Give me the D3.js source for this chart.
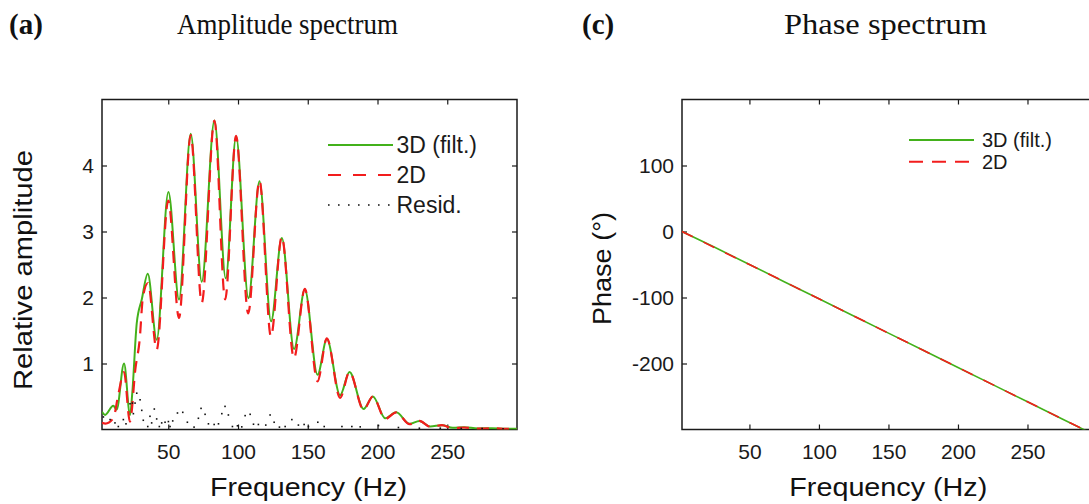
<!DOCTYPE html>
<html><head><meta charset="utf-8">
<script src="https://cdn.jsdelivr.net/npm/d3@7"></script>
<style>body{margin:0;background:#fff} svg{display:block}</style>
</head><body>
<svg id="c" width="1089" height="504"></svg>
<script>
// ---------- data ----------
const xTicks = [50, 100, 150, 200, 250];
const ampTicks = [1, 2, 3, 4];
const phaseTicks = [-200, -100, 0, 100];

const freq3D = [2.5, 4.7, 10.6, 13.0, 18.3, 22.6, 24.2, 27.4, 31.0, 35.3, 41.7, 50.1, 57.7, 66.1, 74.0, 83.1, 91.2, 98.6, 107.5, 115.4, 123.7, 131.4, 140.2, 147.9, 157.0, 163.7, 173.2, 179.9, 190.0, 196.7, 205.5, 213.4, 223.0, 230.1, 237.8, 246.2, 254, 262, 272, 282, 292, 300];
const amp3D  = [0.27, 0.22, 0.36, 0.30, 1.00, 0.22, 0.55, 1.61, 1.97, 2.36, 1.36, 3.60, 1.97, 4.48, 2.24, 4.68, 2.29, 4.44, 1.99, 3.76, 1.64, 2.90, 1.22, 2.12, 0.83, 1.37, 0.52, 0.87, 0.31, 0.50, 0.17, 0.26, 0.086, 0.13, 0.045, 0.066, 0.025, 0.035, 0.015, 0.02, 0.01, 0.01];

const freq2D = [2.5, 5.0, 10.6, 14.2, 18.3, 22.5, 26.5, 29.5, 31.8, 35.5, 41.7, 50.0, 57.7, 66.1, 74.0, 83.1, 90.8, 98.6, 107.3, 115.4, 123.6, 131.4, 140.1, 147.9, 157.0, 163.7, 173.2, 179.9, 190.0, 196.7, 205.5, 213.4, 223.0, 230.1, 237.8, 246.2, 254, 262, 272, 282, 292, 300];
const amp2D  = [0.10, 0.09, 0.17, 0.53, 0.87, 0.12, 0.93, 1.36, 2.00, 2.22, 1.21, 3.47, 1.69, 4.46, 1.92, 4.68, 1.97, 4.45, 1.76, 3.77, 1.41, 2.92, 1.08, 2.13, 0.73, 1.38, 0.48, 0.87, 0.30, 0.50, 0.16, 0.26, 0.08, 0.13, 0.04, 0.065, 0.02, 0.03, 0.012, 0.018, 0.01, 0.008];

const freqResid = [3.5, 8.3, 11.8, 14.2, 17.8, 19.7, 22.6, 24.3, 25.0, 26.2, 27.4, 29.8, 31.0, 32.1, 35.3, 36.9, 38.1, 40.0, 41.7, 43.6, 45.3, 47.7, 50.1, 51.3, 53.2, 56.6, 60.4, 63.7, 68.5, 71.6, 73.5, 76.4, 78.8, 82.9, 86.0, 88.4, 90.7, 93.1, 96.0, 99.6, 102.7, 105.1, 108.7, 111.1, 114.6, 119.9, 123.0, 125.9, 129.7, 133.8, 138.6, 143.3, 147.4, 150.5, 157.2, 161.8, 174.5, 181.6, 187.6, 200.7, 215, 230, 245, 260, 275, 290];
const ampResid  = [0.19, 0.15, 0.10, 0.045, 0.15, 0.086, 0.39, 0.40, 0.24, 0.40, 0.55, 0.45, 0.29, 0.14, 0.045, 0.20, 0.10, 0.31, 0.16, 0.045, 0.10, 0.11, 0.12, 0.045, 0.13, 0.25, 0.26, 0.11, 0.036, 0.17, 0.32, 0.23, 0.086, 0.076, 0.086, 0.24, 0.35, 0.22, 0.045, 0.056, 0.04, 0.21, 0.23, 0.08, 0.076, 0.067, 0.22, 0.11, 0.036, 0.045, 0.15, 0.067, 0.076, 0.045, 0.11, 0.045, 0.045, 0.045, 0.04, 0.06, 0.03, 0.02, 0.02, 0.015, 0.015, 0.01];

const freqPhase = [1.5, 25, 50, 75, 100, 125, 150, 175, 200, 225, 250, 275, 300];
const phase3D   = [0, -24, -50, -76, -102, -128, -154, -180, -206, -232, -258, -284, -310];
const phase2D   = [0, -24.5, -50, -76, -102, -128, -154, -180, -206, -232, -258, -284, -310];

// ---------- styles ----------
const GREEN = "#43b11b", RED = "#f21d1d", AX = "#1a1a1a";
const SANS = "'Liberation Sans', Arial, sans-serif";
const SERIF = "'Liberation Serif', 'Times New Roman', serif";
const svg = d3.select("#c");
const fmt = d => String(d);

function panel(id, xr, xd, yd, yTicks) {
  const x = d3.scaleLinear().domain(xd).range(xr);
  const y = d3.scaleLinear().domain(yd).range([429.5, 99.5]);
  const g = svg.append("g");
  g.append("clipPath").attr("id", id).append("rect")
    .attr("x", xr[0]).attr("y", 99.5).attr("width", xr[1] - xr[0]).attr("height", 330);
  const style = a => a.call(s => s.select(".domain").remove())
    .call(s => s.selectAll("line").attr("stroke", AX).attr("stroke-width", 1.2))
    .call(s => s.selectAll("text").attr("fill", "#1a1a1a").attr("font-family", SANS).attr("font-size", 21));
  g.append("g").attr("transform", "translate(0,429.5)")
    .call(d3.axisBottom(x).tickValues(xTicks).tickFormat(fmt).tickSizeInner(-5).tickSizeOuter(0).tickPadding(15)).call(style);
  g.append("g").attr("transform", "translate(0,99.5)")
    .call(d3.axisTop(x).tickValues(xTicks).tickSizeInner(-5).tickSizeOuter(0).tickFormat("")).call(style);
  g.append("g").attr("transform", `translate(${xr[0]},0)`)
    .call(d3.axisLeft(y).tickValues(yTicks).tickFormat(fmt).tickSizeInner(-5).tickSizeOuter(0).tickPadding(8)).call(style);
  g.append("g").attr("transform", `translate(${xr[1]},0)`)
    .call(d3.axisRight(y).tickValues(yTicks).tickSizeInner(-5).tickSizeOuter(0).tickFormat("")).call(style);
  g.append("rect").attr("x", xr[0]).attr("y", 99.5).attr("width", xr[1] - xr[0]).attr("height", 330)
    .attr("fill", "none").attr("stroke", AX).attr("stroke-width", 1.5);
  const plot = g.append("g").attr("clip-path", `url(#${id})`);
  return {x, y, g, plot};
}

// ---------- panel (a) ----------
const A = panel("clipA", [102, 517], [2.5, 300], [0, 5], ampTicks);
const lineA = d3.line().x(d => A.x(d[0])).y(d => A.y(d[1])).curve(d3.curveMonotoneX);
A.plot.append("path").datum(d3.zip(freq3D, amp3D)).attr("d", lineA)
  .attr("fill", "none").attr("stroke", GREEN).attr("stroke-width", 2);
A.plot.append("path").datum(d3.zip(freq2D, amp2D)).attr("d", lineA)
  .attr("fill", "none").attr("stroke", RED).attr("stroke-width", 2.2).attr("stroke-dasharray", "12,8");
A.plot.selectAll("rect.res").data(d3.zip(freqResid, ampResid)).join("rect").attr("class", "res")
  .attr("x", d => A.x(d[0]) - 0.8).attr("y", d => A.y(d[1]) - 0.8)
  .attr("width", 1.6).attr("height", 1.6).attr("fill", "#111");

// legend (a)
const legA = A.g.append("g").attr("font-family", SANS).attr("font-size", 23).attr("fill", "#1a1a1a");
[[145, GREEN, null, "3D (filt.)", 2], [175, RED, "13,12", "2D", 2], [205, "#111", "1.6,8.4", "Resid.", 1.6]]
  .forEach(([yy, col, dash, lab, w]) => {
    legA.append("line").attr("x1", 328).attr("x2", 393).attr("y1", yy).attr("y2", yy)
      .attr("stroke", col).attr("stroke-width", w).attr("stroke-dasharray", dash);
    legA.append("text").attr("x", 396.5).attr("y", yy).attr("dy", "0.36em").text(lab);
  });

// ---------- panel (c) ----------
const C = panel("clipC", [682, 1097], [1.5, 300], [-300, 200], phaseTicks);
const lineC = d3.line().x(d => C.x(d[0])).y(d => C.y(d[1]));
C.plot.append("path").datum(d3.zip(freqPhase, phase3D)).attr("d", lineC)
  .attr("fill", "none").attr("stroke", GREEN).attr("stroke-width", 1.6);
C.plot.append("path").datum(d3.zip(freqPhase, phase2D)).attr("d", lineC)
  .attr("fill", "none").attr("stroke", RED).attr("stroke-width", 1.6).attr("stroke-dasharray", "12,12");

const legC = C.g.append("g").attr("font-family", SANS).attr("font-size", 20).attr("fill", "#1a1a1a");
[[140, GREEN, null, "3D (filt.)"], [161.7, RED, "14,9", "2D"]].forEach(([yy, col, dash, lab]) => {
  legC.append("line").attr("x1", 909).attr("x2", 974).attr("y1", yy).attr("y2", yy)
    .attr("stroke", col).attr("stroke-width", 2).attr("stroke-dasharray", dash);
  legC.append("text").attr("x", 982).attr("y", yy).attr("dy", "0.35em").text(lab);
});

// ---------- titles & axis labels ----------
const T = svg.append("g").attr("fill", "#111");
T.append("text").attr("x", 9).attr("y", 34).attr("font-family", SERIF).attr("font-weight", "bold")
  .attr("font-size", 29).text("(a)");
T.append("text").attr("x", 177).attr("y", 34).attr("font-family", SERIF).attr("font-size", 30)
  .attr("textLength", 221).attr("lengthAdjust", "spacingAndGlyphs").text("Amplitude spectrum");
T.append("text").attr("x", 582).attr("y", 34).attr("font-family", SERIF).attr("font-weight", "bold")
  .attr("font-size", 29).text("(c)");
T.append("text").attr("x", 784).attr("y", 34).attr("font-family", SERIF).attr("font-size", 30)
  .attr("textLength", 203).attr("lengthAdjust", "spacingAndGlyphs").text("Phase spectrum");

T.append("text").attr("x", 308.5).attr("y", 496).attr("text-anchor", "middle").attr("font-family", SANS)
  .attr("font-size", 26).attr("textLength", 197).attr("lengthAdjust", "spacingAndGlyphs").text("Frequency (Hz)");
T.append("text").attr("x", 888.3).attr("y", 496).attr("text-anchor", "middle").attr("font-family", SANS)
  .attr("font-size", 26).attr("textLength", 198).attr("lengthAdjust", "spacingAndGlyphs").text("Frequency (Hz)");
T.append("text").attr("transform", "translate(32,270) rotate(-90)").attr("text-anchor", "middle")
  .attr("font-family", SANS).attr("font-size", 26).attr("textLength", 240).attr("lengthAdjust", "spacingAndGlyphs")
  .text("Relative amplitude");
T.append("text").attr("transform", "translate(611,268.5) rotate(-90)").attr("text-anchor", "middle")
  .attr("font-family", SANS).attr("font-size", 26).attr("textLength", 113).attr("lengthAdjust", "spacingAndGlyphs")
  .text("Phase (°)");
</script>
</body></html>
